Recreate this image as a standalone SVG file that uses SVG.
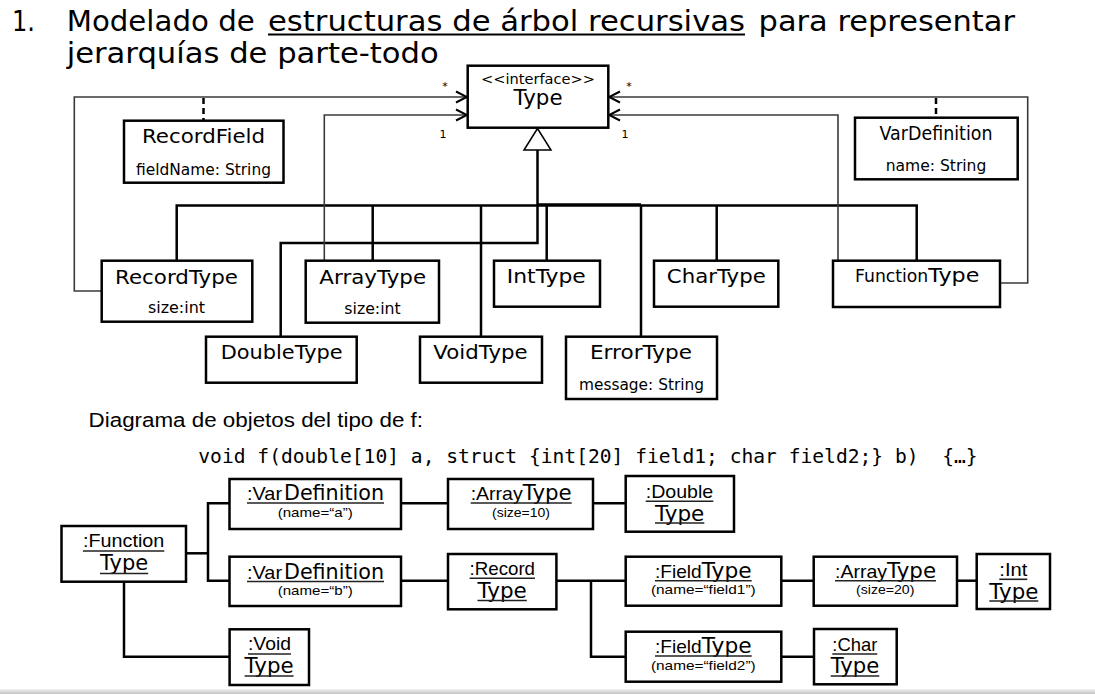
<svg xmlns="http://www.w3.org/2000/svg" width="1095" height="694" viewBox="0 0 1095 694">
<style>
.box{fill:#fff;stroke:#000;stroke-width:2.5}
.conn{fill:none;stroke:#000;stroke-width:2.5}
.assoc{fill:none;stroke:#3a3a3a;stroke-width:1.6}
.dash{fill:none;stroke:#000;stroke-width:2.5;stroke-dasharray:6 4}
.v{font-family:'DejaVu Sans',Verdana,sans-serif;fill:#000}
.c{font-family:'Liberation Sans',Arial,sans-serif;fill:#000}
.m{font-family:'DejaVu Sans Mono','Liberation Mono',monospace;fill:#000;white-space:pre}
.ul{stroke:#222;stroke-width:1.6}
.mid{text-anchor:middle}
</style>
<defs>
<marker id="open" markerWidth="14" markerHeight="14" refX="12" refY="7" orient="auto" markerUnits="userSpaceOnUse">
<path d="M1,1.5 L12,7 L1,12.5" fill="none" stroke="#000" stroke-width="2"/>
</marker>
<linearGradient id="band" x1="0" y1="0" x2="0" y2="1">
<stop offset="0" stop-color="#f2f2f2"/><stop offset="1" stop-color="#c4c4c4"/>
</linearGradient>
</defs>
<rect width="1095" height="694" fill="#fff"/>

<g id="title">
<text class="v" x="12" y="31" font-size="29" textLength="23" lengthAdjust="spacingAndGlyphs">1.</text>
<text class="v" x="66.7" y="31" font-size="29" textLength="188" lengthAdjust="spacingAndGlyphs">Modelado de</text>
<text class="v" x="268" y="31" font-size="29" textLength="477" lengthAdjust="spacingAndGlyphs">estructuras de árbol recursivas</text>
<line x1="268" y1="34.5" x2="745" y2="34.5" stroke="#000" stroke-width="2"/>
<text class="v" x="758.6" y="31" font-size="29" textLength="256.4" lengthAdjust="spacingAndGlyphs">para representar</text>
<text class="v" x="66.7" y="63" font-size="29" textLength="372" lengthAdjust="spacingAndGlyphs">jerarquías de parte-todo</text>
</g>

<g id="connectors">
<path class="conn" d="M537.5,150 V243 H280.7 V336.7"/>
<path class="conn" d="M176.7,260.7 V205.5 H916.7 V260.7"/>
<path class="conn" d="M537.5,204.5 H641"/>
<path class="conn" d="M372.7,205.5 V260.7"/>
<path class="conn" d="M481,205.5 V336.7"/>
<path class="conn" d="M546.7,205.5 V260.7"/>
<path class="conn" d="M641,205.5 V336.7"/>
<path class="conn" d="M716.7,205.5 V260.7"/>
<polygon points="537.5,128.5 524,150 551,150" fill="#fff" stroke="#000" stroke-width="1.5"/>
<path class="assoc" d="M101.7,291 H74.3 V97 H467" marker-end="url(#open)"/>
<path class="assoc" d="M324.3,260.7 V115 H467" marker-end="url(#open)"/>
<path class="assoc" d="M1000,283 H1027.7 V97 H609" marker-end="url(#open)"/>
<path class="assoc" d="M838,260.7 V115 H609" marker-end="url(#open)"/>
<line class="dash" x1="203.5" y1="98" x2="203.5" y2="120.7"/>
<line class="dash" x1="936" y1="98" x2="936" y2="117.7"/>
<text class="v" x="445" y="90" font-size="11" text-anchor="middle">*</text>
<text class="v" x="443" y="138" font-size="11" text-anchor="middle">1</text>
<text class="v" x="629" y="90" font-size="11" text-anchor="middle">*</text>
<text class="v" x="625" y="138" font-size="11" text-anchor="middle">1</text>

<path class="conn" d="M186,553.3 H208"/>
<path class="conn" d="M229.5,503.3 H208 V580.7 H229.5"/>
<path class="conn" d="M401,503.3 H448"/>
<path class="conn" d="M593,503.3 H625.7"/>
<path class="conn" d="M401,580.7 H448"/>
<path class="conn" d="M556.4,580.7 H625.7"/>
<path class="conn" d="M591,580.7 V656.7 H625.7"/>
<path class="conn" d="M781.3,580.7 H813.7"/>
<path class="conn" d="M957,580.7 H976.7"/>
<path class="conn" d="M781.3,656.7 H814"/>
<path class="conn" d="M124,581.7 V656.7 H229.6"/>
</g>

<g id="Type">
<rect class="box" x="467.7" y="65.7" width="140.6" height="62"/>
<text class="v mid" x="538" y="84" font-size="14" textLength="114" lengthAdjust="spacingAndGlyphs">&lt;&lt;interface&gt;&gt;</text>
<text class="v mid" x="538" y="105" font-size="22" textLength="49" lengthAdjust="spacingAndGlyphs">Type</text>
</g>

<g id="RecordField">
<rect class="box" x="124" y="120.7" width="159.5" height="62"/>
<text class="v mid" x="203.5" y="143" font-size="20" textLength="123" lengthAdjust="spacingAndGlyphs">RecordField</text>
<text class="v mid" x="203.5" y="175" font-size="15" textLength="135" lengthAdjust="spacingAndGlyphs">fieldName: String</text>
</g>

<g id="VarDefinition">
<rect class="box" x="855" y="117.7" width="162.7" height="61.6"/>
<text class="v mid" x="936" y="140" font-size="19" textLength="113" lengthAdjust="spacingAndGlyphs">VarDefinition</text>
<text class="v mid" x="936" y="171" font-size="15" textLength="100.7" lengthAdjust="spacingAndGlyphs">name: String</text>
</g>

<g id="RecordType">
<rect class="box" x="101.7" y="260.7" width="150.6" height="61"/>
<text class="v mid" x="176.5" y="284" font-size="20" textLength="123" lengthAdjust="spacingAndGlyphs">RecordType</text>
<text class="v mid" x="176.5" y="312.5" font-size="15" textLength="57" lengthAdjust="spacingAndGlyphs">size:int</text>
</g>

<g id="ArrayType">
<rect class="box" x="305.7" y="260.7" width="133.3" height="62"/>
<text class="v mid" x="372.7" y="284" font-size="20" textLength="106.7" lengthAdjust="spacingAndGlyphs">ArrayType</text>
<text class="v mid" x="372.5" y="313.5" font-size="15" textLength="56.3" lengthAdjust="spacingAndGlyphs">size:int</text>
</g>

<g id="IntType">
<rect class="box" x="494" y="260.7" width="106" height="46"/>
<text class="v mid" x="546.3" y="283.3" font-size="20" textLength="79" lengthAdjust="spacingAndGlyphs">IntType</text>
</g>

<g id="CharType">
<rect class="box" x="654" y="260.7" width="124.3" height="46"/>
<text class="v mid" x="716.3" y="283.3" font-size="20" textLength="99" lengthAdjust="spacingAndGlyphs">CharType</text>
</g>

<g id="FunctionType">
<rect class="box" x="833" y="260.7" width="167" height="46.3"/>
<text class="v" x="855" y="281.7" font-size="17" textLength="73.3" lengthAdjust="spacingAndGlyphs">Function</text>
<text class="v" x="928.3" y="281.7" font-size="20" textLength="51" lengthAdjust="spacingAndGlyphs">Type</text>
</g>

<g id="DoubleType">
<rect class="box" x="206" y="336.7" width="150.7" height="46"/>
<text class="v mid" x="281.7" y="359" font-size="20" textLength="122" lengthAdjust="spacingAndGlyphs">DoubleType</text>
</g>

<g id="VoidType">
<rect class="box" x="420" y="336.7" width="122" height="46"/>
<text class="v mid" x="480.5" y="359" font-size="20" textLength="94.3" lengthAdjust="spacingAndGlyphs">VoidType</text>
</g>

<g id="ErrorType">
<rect class="box" x="566" y="336.7" width="151" height="62.3"/>
<text class="v mid" x="641" y="359" font-size="20" textLength="102" lengthAdjust="spacingAndGlyphs">ErrorType</text>
<text class="v mid" x="641.5" y="389.5" font-size="15" textLength="125" lengthAdjust="spacingAndGlyphs">message: String</text>
</g>

<g id="caption">
<text class="c" x="88.6" y="426.5" font-size="20" textLength="334.4" lengthAdjust="spacingAndGlyphs">Diagrama de objetos del tipo de f:</text>
<text class="m" x="198.3" y="463" font-size="19" textLength="779.3" lengthAdjust="spacingAndGlyphs" xml:space="preserve">void f(double[10] a, struct {int[20] field1; char field2;} b)&#160;&#160;{…}</text>
</g>

<g id="obj-function">
<rect class="box" x="61.5" y="526" width="124.5" height="55.7"/>
<text class="c" x="82.9" y="547" font-size="19" textLength="81.4" lengthAdjust="spacingAndGlyphs">:Function</text>
<line class="ul" x1="82.9" y1="551" x2="164.3" y2="551"/>
<text class="v" x="100" y="570" font-size="22" textLength="48.2" lengthAdjust="spacingAndGlyphs">Type</text>
<line class="ul" x1="100" y1="573.5" x2="148.2" y2="573.5"/>
</g>

<g id="obj-vardef-a">
<rect class="box" x="229.5" y="479" width="171.5" height="50"/>
<text class="c" x="247" y="500" font-size="19" textLength="35" lengthAdjust="spacingAndGlyphs">:Var</text>
<text class="v" x="284" y="500" font-size="21" textLength="100" lengthAdjust="spacingAndGlyphs">Definition</text>
<line class="ul" x1="247" y1="503" x2="384" y2="503"/>
<text class="c mid" x="315.2" y="517" font-size="13.5" textLength="75" lengthAdjust="spacingAndGlyphs">(name=“a”)</text>
</g>

<g id="obj-array-10">
<rect class="box" x="448" y="479" width="145" height="50"/>
<text class="c" x="470.7" y="500" font-size="19" textLength="52" lengthAdjust="spacingAndGlyphs">:Array</text>
<text class="v" x="522.7" y="500" font-size="22" textLength="49" lengthAdjust="spacingAndGlyphs">Type</text>
<line class="ul" x1="470.7" y1="503" x2="571.7" y2="503"/>
<text class="c mid" x="521" y="517" font-size="13.5" textLength="58" lengthAdjust="spacingAndGlyphs">(size=10)</text>
</g>

<g id="obj-double">
<rect class="box" x="625.7" y="476" width="108.3" height="55.7"/>
<text class="c" x="645.7" y="498" font-size="19" textLength="67.6" lengthAdjust="spacingAndGlyphs">:Double</text>
<line class="ul" x1="645.7" y1="501.3" x2="713.3" y2="501.3"/>
<text class="v" x="655" y="520.5" font-size="22" textLength="49.3" lengthAdjust="spacingAndGlyphs">Type</text>
<line class="ul" x1="655" y1="523" x2="704.3" y2="523"/>
</g>

<g id="obj-vardef-b">
<rect class="box" x="229.5" y="556.7" width="171.5" height="49.3"/>
<text class="c" x="247" y="578.5" font-size="19" textLength="35" lengthAdjust="spacingAndGlyphs">:Var</text>
<text class="v" x="284" y="578.5" font-size="21" textLength="100" lengthAdjust="spacingAndGlyphs">Definition</text>
<line class="ul" x1="247" y1="581.5" x2="384" y2="581.5"/>
<text class="c mid" x="315.2" y="595" font-size="13.5" textLength="75" lengthAdjust="spacingAndGlyphs">(name=“b”)</text>
</g>

<g id="obj-record">
<rect class="box" x="448" y="554" width="108.4" height="55.3"/>
<text class="c" x="469.6" y="575" font-size="19" textLength="65.4" lengthAdjust="spacingAndGlyphs">:Record</text>
<line class="ul" x1="469.6" y1="578.3" x2="535" y2="578.3"/>
<text class="v" x="477.5" y="597.5" font-size="22" textLength="49.3" lengthAdjust="spacingAndGlyphs">Type</text>
<line class="ul" x1="477.5" y1="600.5" x2="526.8" y2="600.5"/>
</g>

<g id="obj-field1">
<rect class="box" x="625.7" y="556.7" width="155.6" height="49"/>
<text class="c" x="655" y="578" font-size="19" textLength="46.7" lengthAdjust="spacingAndGlyphs">:Field</text>
<text class="v" x="701.7" y="578" font-size="22" textLength="50" lengthAdjust="spacingAndGlyphs">Type</text>
<line class="ul" x1="655" y1="580.7" x2="751.7" y2="580.7"/>
<text class="c mid" x="703.3" y="594" font-size="13.5" textLength="104.7" lengthAdjust="spacingAndGlyphs">(name=“field1”)</text>
</g>

<g id="obj-array-20">
<rect class="box" x="813.7" y="556.7" width="143.3" height="49"/>
<text class="c" x="835" y="578" font-size="19" textLength="52" lengthAdjust="spacingAndGlyphs">:Array</text>
<text class="v" x="887" y="578" font-size="22" textLength="49" lengthAdjust="spacingAndGlyphs">Type</text>
<line class="ul" x1="835" y1="580.7" x2="936" y2="580.7"/>
<text class="c mid" x="885.2" y="594" font-size="13.5" textLength="58.3" lengthAdjust="spacingAndGlyphs">(size=20)</text>
</g>

<g id="obj-int">
<rect class="box" x="976.7" y="554" width="73.3" height="55"/>
<text class="c" x="999.3" y="576" font-size="18" textLength="28" lengthAdjust="spacingAndGlyphs">:Int</text>
<line class="ul" x1="999.3" y1="579.3" x2="1027.3" y2="579.3"/>
<text class="v" x="989.3" y="598.5" font-size="21" textLength="49" lengthAdjust="spacingAndGlyphs">Type</text>
<line class="ul" x1="989.3" y1="601" x2="1038.3" y2="601"/>
</g>

<g id="obj-field2">
<rect class="box" x="625.7" y="631.7" width="155.6" height="50"/>
<text class="c" x="655" y="653" font-size="19" textLength="46.7" lengthAdjust="spacingAndGlyphs">:Field</text>
<text class="v" x="701.7" y="653" font-size="22" textLength="50" lengthAdjust="spacingAndGlyphs">Type</text>
<line class="ul" x1="655" y1="656" x2="751.7" y2="656"/>
<text class="c mid" x="703.3" y="670" font-size="13.5" textLength="104.7" lengthAdjust="spacingAndGlyphs">(name=“field2”)</text>
</g>

<g id="obj-char">
<rect class="box" x="814" y="629" width="82.7" height="55.3"/>
<text class="c" x="832.3" y="651" font-size="19" textLength="45" lengthAdjust="spacingAndGlyphs">:Char</text>
<line class="ul" x1="832.3" y1="654" x2="877.3" y2="654"/>
<text class="v" x="830.7" y="673" font-size="22" textLength="48.6" lengthAdjust="spacingAndGlyphs">Type</text>
<line class="ul" x1="830.7" y1="676" x2="879.3" y2="676"/>
</g>

<g id="obj-void">
<rect class="box" x="229.6" y="629.3" width="79.4" height="55.7"/>
<text class="c" x="248" y="650" font-size="19" textLength="43" lengthAdjust="spacingAndGlyphs">:Void</text>
<line class="ul" x1="248" y1="654" x2="291" y2="654"/>
<text class="v" x="244.6" y="672.5" font-size="22" textLength="49" lengthAdjust="spacingAndGlyphs">Type</text>
<line class="ul" x1="244.6" y1="676" x2="293.6" y2="676"/>
</g>

<rect x="0" y="689" width="1095" height="5" fill="url(#band)"/>
</svg>
